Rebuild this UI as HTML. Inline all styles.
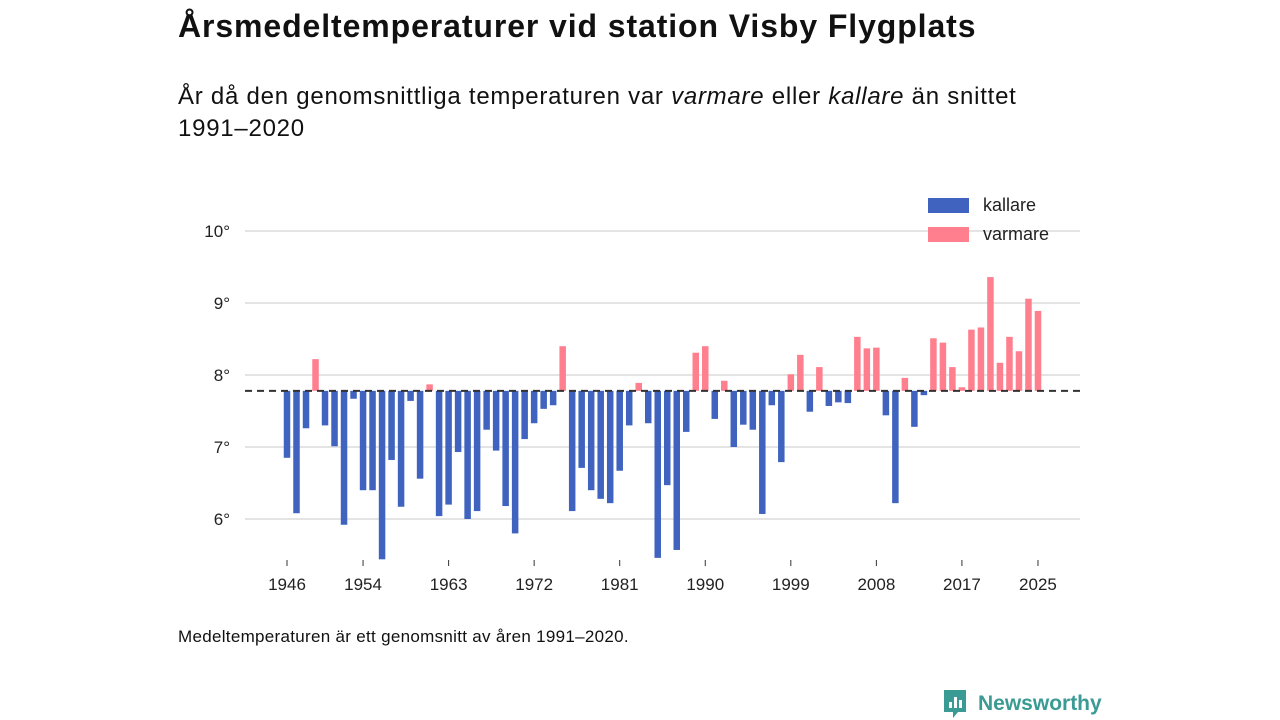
<!DOCTYPE html>
<html><head><meta charset="utf-8">
<style>
body{margin:0;background:#fff;font-family:"Liberation Sans",sans-serif;}
#wrap{position:relative;width:1280px;height:720px;overflow:hidden;}
h1{position:absolute;left:178px;top:8px;margin:0;font-size:32px;letter-spacing:0.9px;font-weight:bold;color:#111;}
.sub{position:absolute;left:178px;top:81px;margin:0;font-size:24px;letter-spacing:0.75px;line-height:32px;color:#111;width:950px;}
.note{position:absolute;left:178px;top:627px;font-size:17px;letter-spacing:0.3px;color:#111;}
.logo{position:absolute;left:942px;top:688px;display:flex;align-items:center;}
.logo span{font-size:21px;font-weight:bold;color:#3a9a94;margin-left:10px;}
svg text{font-family:"Liberation Sans",sans-serif;}
</style></head><body>
<div id="wrap">
<h1>Årsmedeltemperaturer vid station Visby Flygplats</h1>
<p class="sub">År då den genomsnittliga temperaturen var <i>varmare</i> eller <i>kallare</i> än snittet<br>1991–2020</p>
<svg id="chart" width="1280" height="720" style="position:absolute;left:0;top:0"></svg>
<div class="note">Medeltemperaturen är ett genomsnitt av åren 1991–2020.</div>
<div class="logo">
<svg width="26" height="32"><path d="M2 2h22v22h-8l-5 6v-6H2z" fill="#3a9a94"/><rect x="7" y="14" width="3" height="6" fill="#fff"/><rect x="12" y="9" width="3" height="11" fill="#fff"/><rect x="17" y="12" width="3" height="8" fill="#fff"/></svg>
<span>Newsworthy</span></div>
</div>
<script>
const years=[];for(let y=1946;y<=2025;y++)years.push(y);
const temps=[6.85,6.08,7.26,8.22,7.30,7.01,5.92,7.67,6.40,6.40,5.44,6.82,6.17,7.64,6.56,7.87,6.04,6.20,6.93,6.00,6.11,7.24,6.95,6.18,5.80,7.11,7.33,7.53,7.58,8.40,6.11,6.71,6.40,6.28,6.22,6.67,7.30,7.89,7.33,5.46,6.47,5.57,7.21,8.31,8.40,7.39,7.92,7.00,7.31,7.24,6.07,7.58,6.79,8.01,8.28,7.49,8.11,7.57,7.62,7.61,8.53,8.37,8.38,7.44,6.22,7.96,7.28,7.72,8.51,8.45,8.11,7.83,8.63,8.66,9.36,8.17,8.53,8.33,9.06,8.89];
const baseline=[7.78];
const yTicks=[6,7,8,9,10];
const xTicks=[1946,1954,1963,1972,1981,1990,1999,2008,2017,2025];
const svg=document.getElementById('chart');const NS='http://www.w3.org/2000/svg';
const X=y=>287+(y-1946)*9.506;
const Y=v=>375-(v-8)*72;
function mk(t,a){const e=document.createElementNS(NS,t);for(const k in a)e.setAttribute(k,a[k]);svg.appendChild(e);return e;}
yTicks.forEach(v=>{
const g=mk('line',{x1:245,x2:1080,y1:Y(v),y2:Y(v),stroke:'#dcdcdc','stroke-width':1.5});


const t=mk('text',{x:230,y:Y(v)+6,'text-anchor':'end','font-size':17,fill:'#222'});t.textContent=v+'°';


});
const b=baseline[0];
years.forEach((yr,i)=>{
const v=temps[i];const top=Math.min(Y(v),Y(b)),h=Math.abs(Y(v)-Y(b));
const r=mk('rect',{x:X(yr)-3.25,y:top,width:6.5,height:h,fill:v>=b?'#ff7f8e':'#3f63be'});


});
const bl=mk('line',{x1:245,x2:1080,y1:Y(b),y2:Y(b),stroke:'#333','stroke-width':2,'stroke-dasharray':'7,5'});


xTicks.forEach(yr=>{
const l=mk('line',{x1:X(yr),x2:X(yr),y1:560,y2:566,stroke:'#333','stroke-width':1});


const t=mk('text',{x:X(yr),y:590,'text-anchor':'middle','font-size':17,fill:'#222'});t.textContent=yr;


});
[['kallare','#3f63be',198],['varmare','#ff7f8e',227]].forEach(([n,c,y])=>{
const r=mk('rect',{x:928,y:y,width:41,height:15,fill:c});


const t=mk('text',{x:983,y:y+13,'font-size':18,fill:'#222'});t.textContent=n;


});
</script>
</body></html>
